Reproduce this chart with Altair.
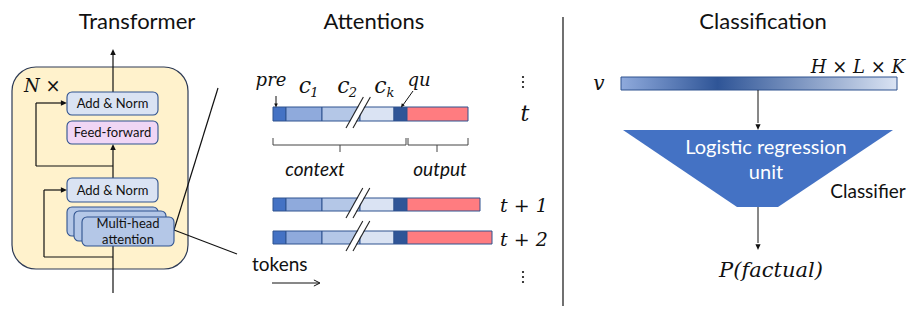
import altair as alt
import pandas as pd

# ---------------- content (labels, categories, colours) ----------------
TITLES = ["Transformer", "Attentions", "Classification"]
BLOCK_LABELS = ["Add & Norm", "Feed-forward", "Add & Norm", "Multi-head", "attention"]
BLOCK_FILLS = ["#DAE3F3", "#F0D6F5", "#DAE3F3", "#B4C7E7"]
SEGMENTS = ["pre", "c1", "c2", "ck", "qu", "output"]
SEGMENT_COLORS = ["#4472C4", "#8FAADC", "#B4C7E7", "#DAE3F3", "#2F5597", "#FF7C80"]
ROW_LABELS = ["t", "t + 1", "t + 2"]
TOKEN_LABELS = ["pre", "c", "c", "c", "qu"]
SUBSCRIPTS = ["1", "2", "k"]
SPAN_LABELS = ["context", "output"]
CLASSIFIER_LABELS = ["Logistic regression", "unit", "Classifier"]
MATH_LABELS = ["N ×", "v", "H × L × K", "P(factual)"]
GRADIENT_COLORS = ["#8FAADC", "#2F5597", "#DAE3F3"]

SANS = "Lato"
SERIF = "DejaVu Serif"
NAVY = "#2F528F"
INK = "#111111"

# ---------------- layout helpers (pixel space of the picture) ----------------
xs = alt.Scale(domain=[8, 907], nice=False, zero=False)
ys = alt.Scale(domain=[8, 306], nice=False, zero=False, reverse=True)


def X(f="x"):
    return alt.X(f"{f}:Q", scale=xs, axis=None, stack=None)


def Y(f="y"):
    return alt.Y(f"{f}:Q", scale=ys, axis=None, stack=None)


def rects(rows, radius=0, sw=1.0):
    d = pd.DataFrame(rows, columns=["x", "x2", "y", "y2", "fill", "stroke"])
    return alt.Chart(d).mark_rect(cornerRadius=radius, strokeWidth=sw).encode(
        x=X(), x2="x2:Q", y=Y(), y2="y2:Q",
        fill=alt.Fill("fill:N", scale=None),
        stroke=alt.Stroke("stroke:N", scale=None),
    )


def rules(segs, color=INK, sw=1.0):
    d = pd.DataFrame(segs, columns=["x", "y", "x2", "y2"])
    return alt.Chart(d).mark_rule(color=color, strokeWidth=sw).encode(
        x=X(), y=Y(), x2="x2:Q", y2="y2:Q")


ARROW = "M0,0 L-1,-0.45 L-1,0.45 Z"
OPEN_ARROW = "M-1,-0.5 L0,0 L-1,0.5"


def heads(pts, size, color=INK):
    d = pd.DataFrame(pts, columns=["x", "y", "angle"])
    return alt.Chart(d).mark_point(shape=ARROW, filled=True, size=size, color=color,
                                   opacity=1, strokeWidth=0).encode(
        x=X(), y=Y(), angle=alt.Angle("angle:Q", scale=None))


def polys(rows, fill):
    # vertical area: for each x, filled between y and y2
    d = pd.DataFrame(rows, columns=["g", "x", "y", "y2"])
    return alt.Chart(d).mark_area(color=fill, opacity=1, interpolate="linear").encode(
        x=X(), y=Y(), y2="y2:Q", detail="g:N")


def texts(rows, **kw):
    d = pd.DataFrame(rows, columns=["x", "y", "text"])
    return alt.Chart(d).mark_text(**kw).encode(x=X(), y=Y(), text="text:N")


layers = []

# ======================= Transformer =======================
layers.append(rects([[12, 188, 67, 269, "#FFF2CC", "#2E3B55"]], radius=24, sw=1.2))
layers.append(rules([
    [113, 293, 113, 246],
    [113, 178, 113, 146],
    [113, 92, 113, 51],
    [113, 257, 44, 257], [44, 257, 44, 190], [44, 190, 62, 190],
    [113, 166, 36, 166], [36, 166, 36, 103], [36, 103, 62, 103],
    [174, 230, 218, 88], [174, 230, 237, 254],
], sw=1.2))
layers.append(heads([[113, 144, 270], [113, 49, 270], [67, 190, 0], [67, 103, 0]], size=150))
layers.append(rects([
    [67, 158, 92, 115, BLOCK_FILLS[0], NAVY],
    [67, 158, 121, 144, BLOCK_FILLS[1], NAVY],
    [67, 158, 178, 202, BLOCK_FILLS[2], NAVY],
    [67, 158, 207, 236, BLOCK_FILLS[3], NAVY],
    [74, 166, 211, 241, BLOCK_FILLS[3], NAVY],
    [82, 174, 217, 246, BLOCK_FILLS[3], NAVY],
], radius=5, sw=1.1))
layers.append(texts([
    [112.5, 104, BLOCK_LABELS[0]],
    [112.5, 133, BLOCK_LABELS[1]],
    [112.5, 190.5, BLOCK_LABELS[2]],
    [128, 224, BLOCK_LABELS[3]],
    [128, 239.5, BLOCK_LABELS[4]],
], font=SANS, fontSize=13, color=INK, align="center", baseline="middle"))
layers.append(texts([[24, 92, MATH_LABELS[0]]], font=SERIF, fontStyle="italic",
                    fontSize=18, color=INK, align="left", baseline="alphabetic"))

# ======================= Attentions =======================
bounds = [273, 286, 322, 360, 394, 407]
row_geo = [(107, 121, 468), (198, 211, 480), (231, 244, 492)]
bar_rows = []
gap_rows = []
break_lines = []
slope = 0.56
gapw = 7
for r, (yt, yb, xend) in enumerate(row_geo):
    edges = bounds + [xend]
    for i in range(len(SEGMENTS)):
        bar_rows.append([edges[i], edges[i + 1], yt, yb, SEGMENT_COLORS[i], NAVY])
    ybot, ytop = yb + 7, yt - 10

    def lx(y, off=0.0):
        return 346 + off + (ybot - y) * slope

    # white gap between the two break strokes, clipped to the bar (+1px)
    top, bot = yt - 1.5, yb + 1.5
    a, b = 0.8, gapw - 0.8
    l1b, l2b, l1t, l2t = lx(bot, a), lx(bot, b), lx(top, a), lx(top, b)

    def y1(x):
        return bot - (x - l1b) / slope

    def y2(x):
        return bot - (x - l2b) / slope

    for xv in sorted([l1b, l2b, l1t, l2t]):
        gap_rows.append([r, xv, max(top, min(bot, y1(xv))), min(bot, max(top, y2(xv)))])
    break_lines.append([lx(ybot), ybot, lx(ytop), ytop])
    break_lines.append([lx(ybot, gapw), ybot, lx(ytop, gapw), ytop])

layers.append(rects(bar_rows, radius=0, sw=1.0))
layers.append(polys(gap_rows, "white"))
layers.append(rules(break_lines, color="#222222", sw=1.1))

# brackets
layers.append(rules([
    [273, 138, 273, 145], [273, 145, 406, 145], [406, 138, 406, 145], [340, 145, 340, 152],
    [408, 138, 408, 145], [408, 145, 468, 145], [468, 138, 468, 145], [437, 145, 437, 152],
], color="#444444", sw=1.0))

# little arrows to pre and qu, tokens arrow
layers.append(rules([[276, 96, 276, 104], [413, 91, 403, 105], [272, 283, 319, 283]], sw=1.0))
layers.append(heads([[276, 107.5, 90], [401, 107.5, 124]], size=64))
tok_head = pd.DataFrame([[320, 283]], columns=["x", "y"])
layers.append(alt.Chart(tok_head).mark_point(shape=OPEN_ARROW, filled=False, size=150,
                                             color=INK, strokeWidth=1.0, opacity=1).encode(x=X(), y=Y()))

# vertical ellipses
dots = pd.DataFrame([[523, 77], [523, 82], [523, 87], [523, 272], [523, 277], [523, 282]],
                    columns=["x", "y"])
layers.append(alt.Chart(dots).mark_circle(size=5, color=INK, opacity=1).encode(x=X(), y=Y()))

# math labels in the attention panel
layers.append(texts([[271, 86, TOKEN_LABELS[0]], [419, 86, TOKEN_LABELS[4]]],
                    font=SERIF, fontStyle="italic", fontSize=18, color=INK,
                    align="center", baseline="alphabetic"))
layers.append(texts([
    [305, 93, TOKEN_LABELS[1]],
    [343.5, 93, TOKEN_LABELS[2]],
    [380.5, 93, TOKEN_LABELS[3]],
    [525, 121, ROW_LABELS[0]],
], font=SERIF, fontStyle="italic", fontSize=22, color=INK, align="center", baseline="alphabetic"))
layers.append(texts([
    [314.5, 97, SUBSCRIPTS[0]],
    [353, 97, SUBSCRIPTS[1]],
    [390.5, 97, SUBSCRIPTS[2]],
], font=SERIF, fontStyle="italic", fontSize=13, color=INK, align="center", baseline="alphabetic"))
layers.append(texts([
    [500, 212, ROW_LABELS[1]],
    [500, 246, ROW_LABELS[2]],
], font=SERIF, fontStyle="italic", fontSize=19, color=INK, align="left", baseline="alphabetic"))
layers.append(texts([[315, 170, SPAN_LABELS[0]], [440, 170, SPAN_LABELS[1]]],
                    font=SANS, fontStyle="italic", fontSize=19, color=INK,
                    align="center", baseline="middle"))
layers.append(texts([[252, 271, "tokens"]], font=SANS, fontSize=19, color=INK,
                    align="left", baseline="alphabetic"))

# ======================= Classification =======================
layers.append(rules([[563, 17, 563, 313]], color=INK, sw=1.2))
grad = alt.Gradient(
    gradient="linear", x1=0, y1=0, x2=1, y2=0,
    stops=[alt.GradientStop(color=GRADIENT_COLORS[0], offset=0),
           alt.GradientStop(color=GRADIENT_COLORS[1], offset=0.35),
           alt.GradientStop(color=GRADIENT_COLORS[2], offset=1)])
vbar = pd.DataFrame([[621, 897, 77, 90]], columns=["x", "x2", "y", "y2"])
layers.append(alt.Chart(vbar).mark_rect(fill=grad, stroke=NAVY, strokeWidth=1).encode(
    x=X(), x2="x2:Q", y=Y(), y2="y2:Q"))
# trapezoid of the classifier
layers.append(polys([[0, 623, 130, 130], [0, 737, 130, 207], [0, 778, 130, 207],
                     [0, 893, 130, 130]], "#4472C4"))
layers.append(rules([[758, 90, 758, 123], [758, 207, 758, 243]], sw=1.0))
layers.append(heads([[758, 130, 90], [758, 250, 90]], size=130))
layers.append(texts([[766, 148, CLASSIFIER_LABELS[0]], [766, 173, CLASSIFIER_LABELS[1]]],
                    font=SANS, fontSize=20, color="white", align="center", baseline="middle"))
layers.append(texts([[868, 192, CLASSIFIER_LABELS[2]]], font=SANS, fontSize=19, color=INK,
                    align="center", baseline="middle"))
layers.append(texts([[599, 90, MATH_LABELS[1]]], font=SERIF, fontStyle="italic", fontSize=20,
                    color=INK, align="center", baseline="alphabetic"))
layers.append(texts([[905, 73, MATH_LABELS[2]]], font=SERIF, fontStyle="italic", fontSize=18,
                    color=INK, align="right", baseline="alphabetic"))
layers.append(texts([[771, 277, MATH_LABELS[3]]], font=SERIF, fontStyle="italic", fontSize=21,
                    color=INK, align="center", baseline="alphabetic"))

# ======================= titles =======================
layers.append(texts([
    [137, 29, TITLES[0]],
    [374, 29, TITLES[1]],
    [763, 29, TITLES[2]],
], font=SANS, fontSize=22, color=INK, align="center", baseline="alphabetic"))

chart = alt.layer(*layers).properties(
    width=899, height=298,
    autosize=alt.AutoSizeParams(type="none"),
    padding=0,
    background="white",
).configure_view(stroke="transparent")

chart.save("out.html", embed_options={"renderer": "svg", "actions": False})
